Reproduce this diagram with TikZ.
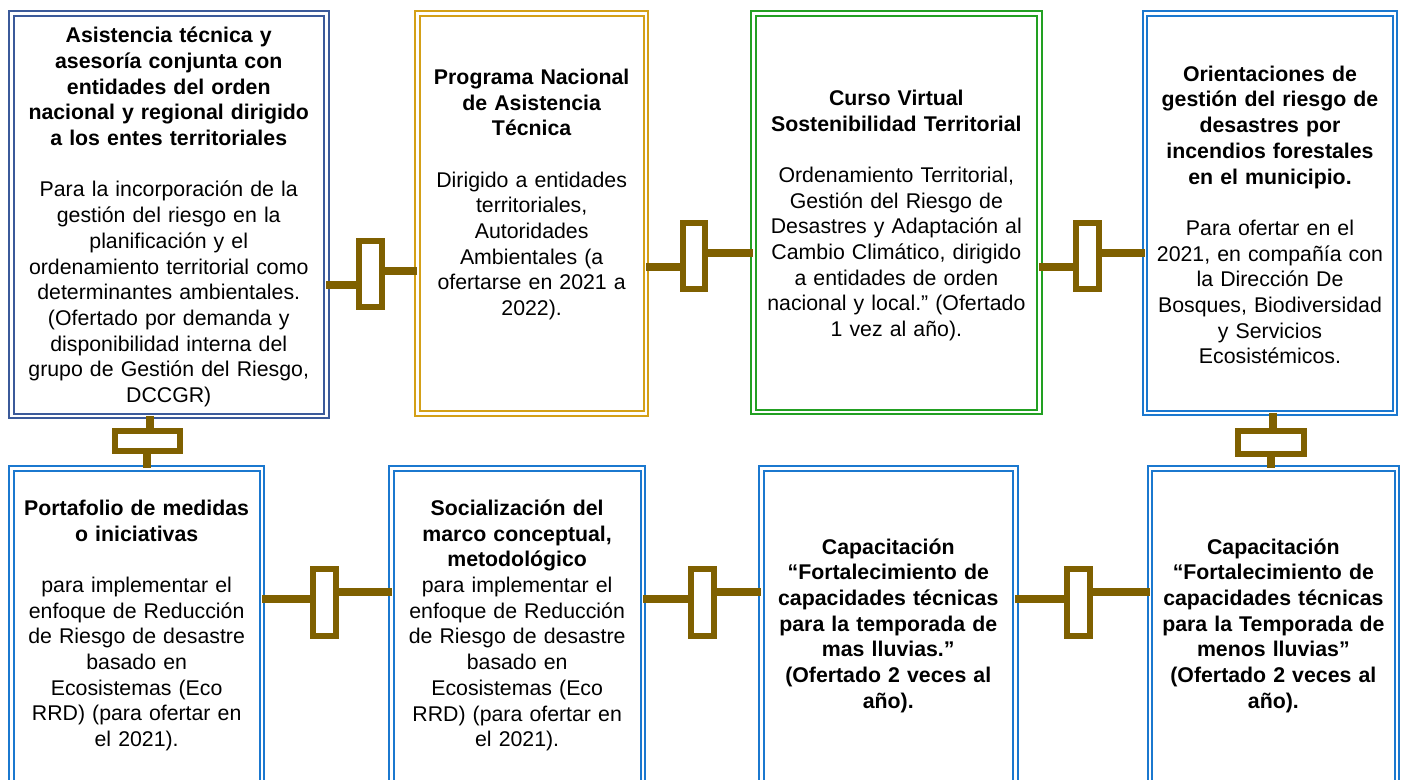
\documentclass[tikz,border=0pt]{standalone}
\usepackage{fontspec}
\setmainfont{Liberation Sans}
\frenchspacing
\definecolor{navy}{HTML}{3B5A9A}
\definecolor{gold}{HTML}{D4A017}
\definecolor{leaf}{HTML}{22A022}
\definecolor{sky}{HTML}{1B78CF}
\definecolor{linkbrown}{HTML}{7F6000}
\begin{document}
\begin{tikzpicture}[x=1pt,y=-1pt,every node/.style={font=\fontsize{21.3}{25.7}\selectfont,inner sep=0pt,outer sep=0pt},
  box/.style={rectangle,draw=#1,double=white,double distance=2.5pt,line width=2pt},
  txt/.style={align=center},
  link/.style={rectangle,draw=linkbrown,fill=white,line width=6pt},
  stub/.style={draw=linkbrown,line width=8pt}]
\fill[white] (0,0) rectangle (1405,779);
\clip (0,0) rectangle (1405,779);
\node[box=navy,minimum width=315pt,minimum height=402.5pt] (b1) at (168.75,214.5) {};
\node[box=gold,minimum width=228.8pt,minimum height=400pt] (b2) at (531.65,213.25) {};
\node[box=leaf,minimum width=286.2pt,minimum height=398.5pt] (b3) at (896.35,212.5) {};
\node[box=sky,minimum width=250.1pt,minimum height=399.5pt] (b4) at (1270,213) {};
\node[box=sky,minimum width=250.2pt,minimum height=318.5pt] (b5) at (136.65,627.5) {};
\node[box=sky,minimum width=251.2pt,minimum height=318.5pt] (b6) at (517.15,627.5) {};
\node[box=sky,minimum width=254pt,minimum height=318.5pt] (b7) at (888.25,627.5) {};
\node[box=sky,minimum width=246.8pt,minimum height=318.5pt] (b8) at (1273.35,627.5) {};
\node[txt,text width=310pt] (t1) at (168.75,217) {{\bfseries Asistencia técnica y\\asesoría conjunta con\\entidades del orden\\nacional y regional dirigido\\a los entes territoriales}\\[25.7pt]Para la incorporación de la\\gestión del riesgo en la\\planificación y el\\ordenamiento territorial como\\determinantes ambientales.\\(Ofertado por demanda y\\disponibilidad interna del\\grupo de Gestión del Riesgo,\\DCCGR)};
\node[txt,text width=225pt] (t2) at (531.65,194.5) {{\bfseries Programa Nacional\\de Asistencia\\Técnica}\\[25.7pt]Dirigido a entidades\\territoriales,\\Autoridades\\Ambientales (a\\ofertarse en 2021 a\\2022).};
\node[txt,text width=282pt] (t3) at (896.35,215.5) {{\bfseries Curso Virtual\\Sostenibilidad Territorial}\\[25.7pt]Ordenamiento Territorial,\\Gestión del Riesgo de\\Desastres y Adaptación al\\Cambio Climático, dirigido\\a entidades de orden\\nacional y local.” (Ofertado\\1 vez al año).};
\node[txt,text width=248pt] (t4) at (1270,215) {{\bfseries Orientaciones de\\gestión del riesgo de\\desastres por\\incendios forestales\\en el municipio.}\\[25.7pt]Para ofertar en el\\2021, en compañía con\\la Dirección De\\Bosques, Biodiversidad\\y Servicios\\Ecosistémicos.};
\node[txt,text width=248pt] (t5) at (136.65,625.5) {{\bfseries Portafolio de medidas\\o iniciativas}\\[25.7pt]para implementar el\\enfoque de Reducción\\de Riesgo de desastre\\basado en\\Ecosistemas (Eco\\RRD) (para ofertar en\\el 2021).};
\node[txt,text width=248pt] (t6) at (517.15,625.5) {{\bfseries Socialización del\\marco conceptual,\\metodológico}\\para implementar el\\enfoque de Reducción\\de Riesgo de desastre\\basado en\\Ecosistemas (Eco\\RRD) (para ofertar en\\el 2021).};
\node[txt,text width=250pt,font=\fontsize{21.3}{25.7}\selectfont\bfseries] (t7) at (888.25,625.5) {Capacitación\\“Fortalecimiento de\\capacidades técnicas\\para la temporada de\\mas lluvias.”\\(Ofertado 2 veces al\\año).};
\node[txt,text width=245pt,font=\fontsize{21.3}{25.7}\selectfont\bfseries] (t8) at (1273.35,625.5) {Capacitación\\“Fortalecimiento de\\capacidades técnicas\\para la Temporada de\\menos lluvias”\\(Ofertado 2 veces al\\año).};
\node[link,minimum width=23pt,minimum height=66pt] (k1) at (370.5,274) {};
\node[link,minimum width=22.3pt,minimum height=66pt] (k2) at (694.2,256) {};
\node[link,minimum width=23pt,minimum height=66pt] (k3) at (1087.2,256) {};
\node[link,minimum width=23pt,minimum height=67pt] (k4) at (324.5,602.5) {};
\node[link,minimum width=23pt,minimum height=67pt] (k5) at (702.8,602.5) {};
\node[link,minimum width=22.4pt,minimum height=67pt] (k6) at (1078.5,602.5) {};
\node[link,minimum width=65.6pt,minimum height=20pt] (kv1) at (147.5,441.3) {};
\node[link,minimum width=66.3pt,minimum height=23pt] (kv2) at (1271.2,442.2) {};
\draw[stub] (b1.east |- 0,285) -- (k1.west |- 0,285);
\draw[stub] (k1.east |- 0,270.5) -- (b2.west |- 0,270.5);
\draw[stub] (b2.east |- 0,266.7) -- (k2.west |- 0,266.7);
\draw[stub] (k2.east |- 0,252.5) -- (b3.west |- 0,252.5);
\draw[stub] (b3.east |- 0,266.7) -- (k3.west |- 0,266.7);
\draw[stub] (k3.east |- 0,252.5) -- (b4.west |- 0,252.5);
\draw[stub] (b5.east |- 0,599) -- (k4.west |- 0,599);
\draw[stub] (k4.east |- 0,592) -- (b6.west |- 0,592);
\draw[stub] (b6.east |- 0,599) -- (k5.west |- 0,599);
\draw[stub] (k5.east |- 0,592) -- (b7.west |- 0,592);
\draw[stub] (b7.east |- 0,599) -- (k6.west |- 0,599);
\draw[stub] (k6.east |- 0,592) -- (b8.west |- 0,592);
\draw[stub] (149.5,0 |- b1.south) -- (149.5,0 |- kv1.north);
\draw[stub] (147,0 |- kv1.south) -- (147,0 |- b5.north);
\draw[stub] (1273,0 |- b4.south) -- (1273,0 |- kv2.north);
\draw[stub] (1270.5,0 |- kv2.south) -- (1270.5,0 |- b8.north);
\end{tikzpicture}
\end{document}
